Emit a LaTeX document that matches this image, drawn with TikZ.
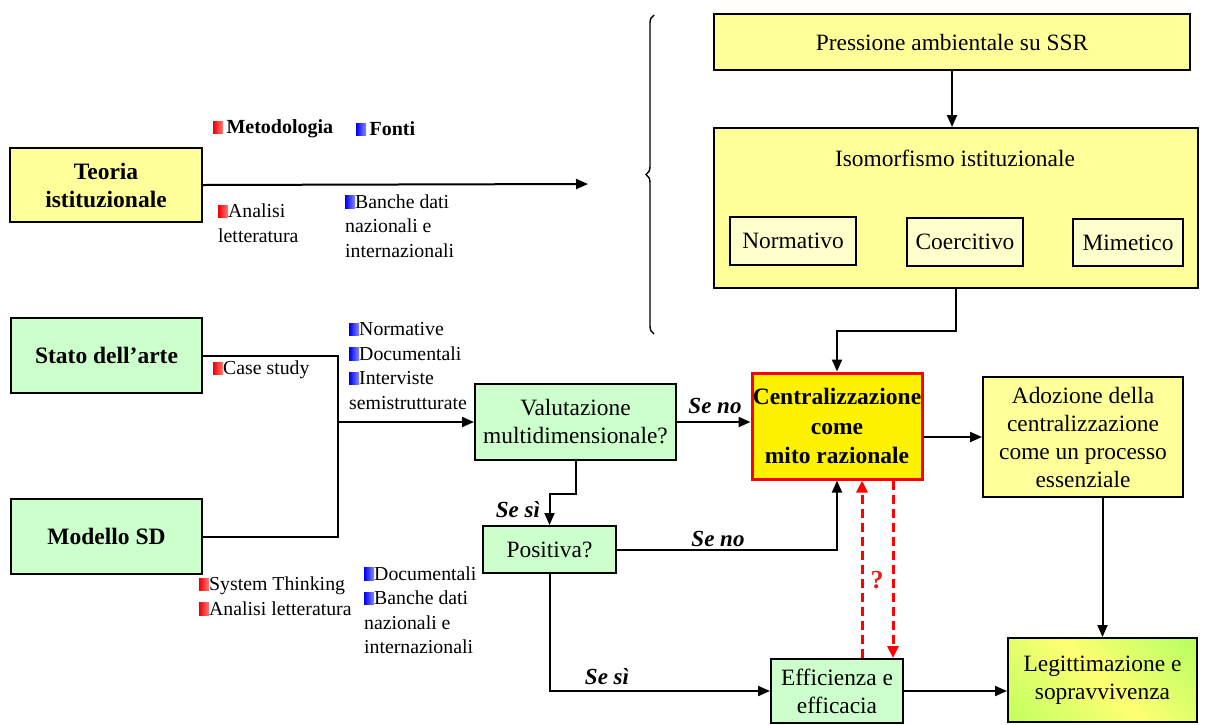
\documentclass[tikz,border=0pt]{standalone}
\usepackage{fontspec}
\setmainfont{Liberation Serif}
\usetikzlibrary{arrows.meta,decorations.pathreplacing,shadings}

\definecolor{boxgreen}{HTML}{CCFFCC}
\definecolor{boxyellow}{HTML}{FFFF99}
\definecolor{paleyellow}{HTML}{FFFFCC}
\definecolor{qred}{HTML}{E0201B}

\newcommand\bxf{\fontsize{23.4}{28}\selectfont}
\newcommand\ttlf{\fontsize{23.5}{28}\selectfont\bfseries}
\newcommand\lbf{\fontsize{19.8}{24.5}\selectfont}
\newcommand\cnf{\fontsize{23}{24}\selectfont\bfseries\itshape}

% small shaded bullets
\newcommand\redsq{\tikz[baseline=0pt]\shade[left color=red!95!black,right color=red!50] (0pt,0pt) rectangle (10pt,12.5pt);}
\newcommand\bluesq{\tikz[baseline=0pt]\shade[left color=blue!95!black,right color=blue!45] (0pt,0pt) rectangle (10pt,12.5pt);}

\pgfdeclarehorizontalshading{legitshade}{100bp}{color(0bp)=(green!45!yellow!70);color(25bp)=(green!30!yellow!60);color(50bp)=(yellow!55);color(75bp)=(green!35!yellow!60);color(100bp)=(green!55!yellow!70)}

\tikzset{
  base/.style={draw, line width=2pt, align=center, inner sep=0pt, font=\bxf},
  gbox/.style={base, fill=boxgreen},
  ybox/.style={base, fill=boxyellow},
  pbox/.style={base, fill=paleyellow},
  lbl/.style={anchor=west, align=left, inner sep=0pt, font=\lbf},
  cond/.style={inner sep=0pt, font=\cnf},
  conn/.style={line width=2pt},
  arr/.style={conn, -{Triangle[length=12pt,width=10pt]}},
  qarr/.style={draw=red, line width=3pt, dash pattern=on 9pt off 5pt, -{Triangle[length=12pt,width=11pt]}, red}
}

\begin{document}
\begin{tikzpicture}[x=1pt,y=-1pt]
\useasboundingbox (0,0) rectangle (1212,724);

% left column
\node[ybox, minimum width=192, minimum height=74, font=\ttlf] (teoria) at (106,185) {Teoria\\istituzionale};
\node[gbox, minimum width=191, minimum height=75, font=\ttlf] (stato) at (106.5,355.5) {Stato dell’arte};
\node[gbox, minimum width=191, minimum height=75, font=\ttlf] (modello) at (106.5,536.5) {Modello SD};

% institutional pressure block
\node[ybox, minimum width=476, minimum height=56] (pressione) at (952,42) {Pressione ambientale su SSR};
\node[ybox, minimum width=484, minimum height=160] (iso) at (956,208) {};
\node[inner sep=0pt, font=\bxf] (isolbl) at (955,158) {Isomorfismo istituzionale};
\node[pbox, minimum width=126, minimum height=48] (norm) at (793,241) {Normativo};
\node[pbox, minimum width=116, minimum height=48] (coerc) at (965,242) {Coercitivo};
\node[pbox, minimum width=110, minimum height=47] (mim) at (1128,242.5) {Mimetico};

% flow
\node[gbox, minimum width=201, minimum height=76] (valut) at (575.5,422) {Valutazione\\multidimensionale?};
\node[gbox, minimum width=133, minimum height=47] (positiva) at (549.5,549.5) {Positiva?};
\node[base, draw=red, line width=3pt, fill=yellow, minimum width=170, minimum height=106, font=\fontsize{23.5}{29.5}\selectfont\bfseries] (centr) at (837,426) {Centralizzazione\\come\\mito razionale};
\node[ybox, minimum width=200, minimum height=120] (adoz) at (1083,437) {Adozione della\\centralizzazione\\come un processo\\essenziale};
\node[base, shading=legitshade, shading angle=45, minimum width=189, minimum height=84] (legit) at (1102.5,680) {Legittimazione e\\sopravvivenza};
\node[gbox, minimum width=132, minimum height=64] (effic) at (837,691) {Efficienza e\\efficacia};

% brace
\draw[line width=1.4pt, decorate, decoration={brace, amplitude=8pt}] (654,334) -- (654,15);

% connectors
\coordinate (teoriaend) at (588,184);
\draw[arr] (teoria.east) -- (teoriaend);
\draw[arr] (pressione.south) -- (pressione.south |- iso.north);
\draw[arr] (iso.south) -- ++(0,42) -| (centr.north);
\draw[arr] (centr.east |- adoz.west) -- (adoz.west);
\draw[arr] (adoz.south -| legit.north) -- (legit.north);
\draw[arr] (effic.east) -- (effic.east -| legit.west);

\coordinate (join) at (338,422);
\draw[conn] (stato.east) -| (join);
\draw[conn] (modello.east) -| (join);
\draw[arr] (join) -- (valut.west);

\draw[arr] (valut.east) -- (valut.east -| centr.west);
\draw[arr] (valut.south) -- ++(0,33) -| (positiva.north);
\draw[arr] (positiva.east) -| (centr.south);
\draw[arr] (positiva.south) |- (effic.west);

\draw[qarr] ([xshift=25pt]effic.north) -- ([xshift=25pt]effic.north |- centr.south);
\draw[qarr] ([xshift=56pt]centr.south) -- ([xshift=56pt]centr.south |- effic.north);
\node[inner sep=0pt, text=qred, font=\fontsize{26}{28}\selectfont\bfseries] (qmark) at (877,580) {?};

% branch labels
\node[cond] (seno1) at (715,406) {Se no};
\node[cond] (seno2) at (718,539) {Se no};
\node[cond] (sesi1) at (518,510) {Se sì};
\node[cond] (sesi2) at (607,677) {Se sì};

% method and source notes
\node[lbl, font=\fontsize{20}{24}\selectfont\bfseries] (metod) at (213,129) {\redsq\,Metodologia};
\node[lbl, font=\fontsize{20}{24}\selectfont\bfseries] (fonti) at (356,129) {\bluesq\,Fonti};
\node[lbl] (analisi1) at (218,223) {\redsq Analisi\\letteratura};
\node[lbl] (banche1) at (345,226) {\bluesq Banche dati\\nazionali e\\internazionali};
\node[lbl] (case) at (213,370) {\redsq Case study};
\node[lbl] (fonti2) at (349,366) {\bluesq Normative\\\bluesq Documentali\\\bluesq Interviste\\semistrutturate};
\node[lbl] (metod3) at (199,596) {\redsq System Thinking\\\redsq Analisi letteratura};
\node[lbl] (fonti3) at (364,610) {\bluesq Documentali\\\bluesq Banche dati\\nazionali e\\internazionali};
\end{tikzpicture}
\end{document}
